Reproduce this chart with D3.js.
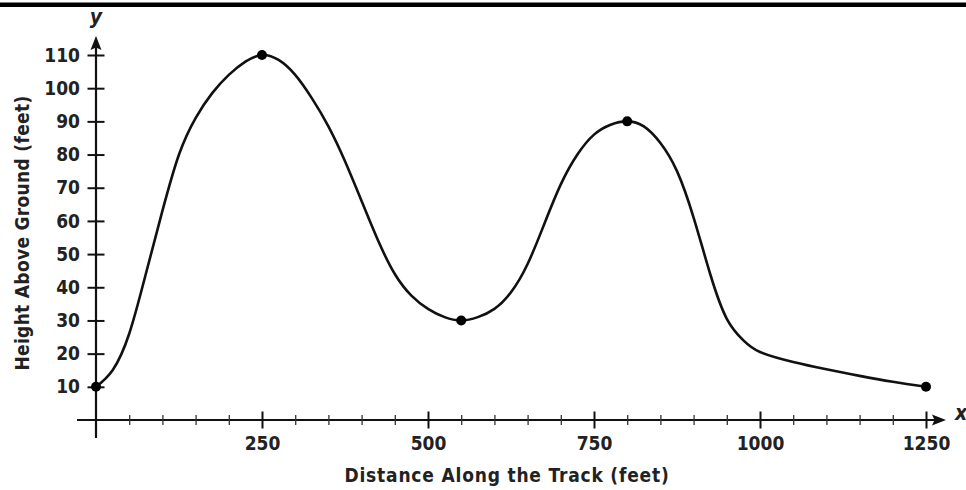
<!DOCTYPE html>
<html><head><meta charset="utf-8">
<script src="https://cdn.jsdelivr.net/npm/d3@7"></script>
<style>
html,body{margin:0;padding:0;background:#fff;}
svg{display:block;}
text{font-family:"DejaVu Sans Condensed","DejaVu Sans",sans-serif;fill:#222;}
</style></head>
<body>
<svg id="c" width="966" height="490"></svg>
<script>
// Data (height of the track every 25 ft)
const trackX  = [0, 25, 50, 75, 100, 125, 150, 175, 200, 225, 250, 275, 300, 325, 350, 375, 400, 425, 450, 475, 500, 525, 550,
                 575, 600, 625, 650, 675, 700, 725, 750, 775, 800, 825, 850, 875, 900, 925, 950, 975, 1000, 1050, 1100, 1150, 1200, 1250];
const heights = [10, 15, 26, 44, 63, 80, 91, 98.5, 104, 108, 110, 108.5, 104, 97, 88.5, 78, 66, 54, 44, 37.5, 33.5, 31, 30,
                 31, 33.5, 38.5, 47, 59, 71, 80, 86, 89, 90, 88.5, 83.5, 75, 61, 44, 30.5, 24, 20.5, 17.5, 15.3, 13.3, 11.5, 10];
const markX = [0, 250, 550, 800, 1250];
const markY = [10, 110, 30, 90, 10];
const xMajorTicks = [250, 500, 750, 1000, 1250];
const xMinorTicks = d3.range(50, 1251, 50).filter(v => v % 250 !== 0);
const yTicks = [10, 20, 30, 40, 50, 60, 70, 80, 90, 100, 110];
const xTitle = "Distance Along the Track (feet)";
const yTitle = "Height Above Ground (feet)";

const FONT = '"DejaVu Sans Condensed","DejaVu Sans",sans-serif';
const svg = d3.select("#c");
const x = d3.scaleLinear().domain([0, 1250]).range([96, 926]);
const y = d3.scaleLinear().domain([0, 110]).range([420, 55]);

// top black bar
svg.append("rect").attr("x", 0).attr("y", 2.5).attr("width", 966).attr("height", 4.5).attr("fill", "#000");

// axes lines
svg.append("line").attr("x1", 77).attr("x2", 938).attr("y1", y(0)).attr("y2", y(0))
  .attr("stroke", "#111").attr("stroke-width", 2.2);
svg.append("path").attr("d", `M946,${y(0)} L932,${y(0)-5.5} L934.5,${y(0)} L932,${y(0)+5.5} Z`).attr("fill", "#111");
svg.append("line").attr("x1", x(0)).attr("x2", x(0)).attr("y1", 438).attr("y2", 45)
  .attr("stroke", "#111").attr("stroke-width", 2.2);
svg.append("path").attr("d", `M${x(0)},36 L${x(0)-5.5},50 L${x(0)},47.5 L${x(0)+5.5},50 Z`).attr("fill", "#111");

// x axis major ticks + labels
const xAx = svg.append("g").attr("transform", `translate(0,${y(0)})`)
  .call(d3.axisBottom(x).tickValues(xMajorTicks).tickSize(0).tickFormat(d3.format("d")));
xAx.select(".domain").remove();
xAx.selectAll(".tick line").attr("y1", -8.5).attr("y2", 8.5).attr("stroke", "#111").attr("stroke-width", 2);
xAx.selectAll(".tick text").attr("font-size", 19).attr("font-weight", "bold").attr("fill", "#222")
  .attr("font-family", FONT).attr("dy", "0.71em").attr("y", 16.5);

// minor ticks
const xMin = svg.append("g").attr("transform", `translate(0,${y(0)})`)
  .call(d3.axisBottom(x).tickValues(xMinorTicks).tickSize(0).tickFormat(""));
xMin.select(".domain").remove();
xMin.selectAll(".tick line").attr("y1", -5).attr("y2", 5).attr("stroke", "#333").attr("stroke-width", 1.3);

// y axis
const yAx = svg.append("g").attr("transform", `translate(${x(0)},0)`)
  .call(d3.axisLeft(y).tickValues(yTicks).tickSize(0).tickPadding(16));
yAx.select(".domain").remove();
yAx.selectAll(".tick line").attr("x1", -8.5).attr("x2", 8.5).attr("stroke", "#111").attr("stroke-width", 2);
yAx.selectAll(".tick text").attr("font-size", 19).attr("font-weight", "bold").attr("fill", "#222")
  .attr("font-family", FONT);

// curve
const pts = trackX.map((d, i) => [d, heights[i]]);
svg.append("path").datum(pts)
  .attr("d", d3.line().x(d => x(d[0])).y(d => y(d[1])).curve(d3.curveNatural))
  .attr("fill", "none").attr("stroke", "#111").attr("stroke-width", 2.6);

svg.selectAll("circle.m").data(markX).enter().append("circle")
  .attr("cx", d => x(d)).attr("cy", (d, i) => y(markY[i])).attr("r", 5).attr("fill", "#000");

// titles
svg.append("text").attr("x", 507).attr("y", 476).attr("text-anchor", "middle").attr("dominant-baseline", "middle")
  .attr("font-size", 19).attr("font-weight", "bold").attr("letter-spacing", 0.8).text(xTitle);
svg.append("text").attr("transform", "translate(23,233) rotate(-90)").attr("text-anchor", "middle")
  .attr("dominant-baseline", "middle").attr("font-size", 19).attr("font-weight", "bold").attr("letter-spacing", 0.3).text(yTitle);

svg.append("text").attr("x", 96).attr("y", 18).attr("text-anchor", "middle").attr("dominant-baseline", "middle")
  .attr("font-size", 21).attr("font-style", "italic").attr("font-weight", "bold").text("y");
svg.append("text").attr("x", 961).attr("y", 414).attr("text-anchor", "middle").attr("dominant-baseline", "middle")
  .attr("font-size", 21).attr("font-style", "italic").attr("font-weight", "bold").text("x");
</script>
</body></html>
